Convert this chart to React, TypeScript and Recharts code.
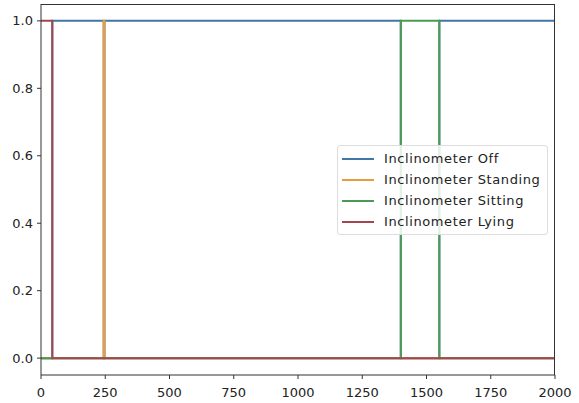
import React from "react";
import { LineChart, Line, XAxis, YAxis } from "recharts";

const xs = [0, 44, 244, 247, 1400, 1550, 2000];
const offValues = [0, 1, 0, 1, 0, 1, 1];
const standingValues = [0, 0, 1, 0, 0, 0, 0];
const sittingValues = [0, 0, 0, 0, 1, 0, 0];
const lyingValues = [1, 0, 0, 0, 0, 0, 0];
const xTicks = [0, 250, 500, 750, 1000, 1250, 1500, 1750, 2000];
const yTicks = [0, 0.2, 0.4, 0.6, 0.8, 1.0];

const data = xs.map((x, i) => ({
  x,
  off: offValues[i],
  standing: standingValues[i],
  sitting: sittingValues[i],
  lying: lyingValues[i],
}));

const series = [
  { key: "off", name: "Inclinometer Off", color: "#3f77a6" },
  { key: "standing", name: "Inclinometer Standing", color: "#e59c42" },
  { key: "sitting", name: "Inclinometer Sitting", color: "#4b9c52" },
  { key: "lying", name: "Inclinometer Lying", color: "#a4464f" },
];

const font = "'DejaVu Sans', sans-serif";
const tickStyle = { fill: "#222", fontSize: 13, fontFamily: font };

const XTick = (props: any) => {
  const { x, payload } = props;
  return (
    <text x={x} y={397} textAnchor="middle" fill="#222" fontSize={13} fontFamily={font}>
      {payload.value}
    </text>
  );
};

// plot box: left 41, right 555, top 4, bottom 375
export default function App() {
  return (
    <div style={{ position: "fixed", left: 0, top: 0, width: 579, height: 403, background: "#fff" }}>
      <LineChart width={579} height={403} data={data} margin={{ top: 4, right: 24, left: 0, bottom: 0 }}>
        <XAxis
          dataKey="x"
          type="number"
          domain={[0, 2000]}
          ticks={xTicks}
          height={28}
          tickSize={4}
          stroke="#333"
          tick={<XTick />}
        />
        <YAxis
          type="number"
          domain={[-0.05, 1.05]}
          ticks={yTicks}
          width={41}
          tickSize={4}
          tickMargin={4}
          stroke="#333"
          tickFormatter={(v: number) => v.toFixed(1)}
          tick={tickStyle}
        />
        {series.map((s) => (
          <Line
            key={s.key}
            type="stepAfter"
            dataKey={s.key}
            name={s.name}
            stroke={s.color}
            strokeWidth={2}
            dot={false}
            isAnimationActive={false}
          />
        ))}
      </LineChart>
      <div
        style={{
          position: "absolute",
          left: 41,
          top: 4,
          width: 514,
          height: 371,
          borderTop: "1px solid #333",
          borderRight: "1px solid #333",
          boxSizing: "border-box",
          pointerEvents: "none",
        }}
      />
      <div
        style={{
          position: "absolute",
          left: 337,
          top: 145,
          width: 211,
          boxSizing: "border-box",
          border: "1px solid #ddd",
          borderRadius: 3,
          background: "rgba(255,255,255,0.85)",
          padding: "2px 4px 2px 4px",
          fontFamily: font,
          fontSize: 13,
          letterSpacing: 0.6,
          color: "#222",
        }}
      >
        {series.map((s) => (
          <div key={s.key} style={{ display: "flex", alignItems: "center", height: 21, whiteSpace: "nowrap" }}>
            <span style={{ width: 32, height: 2, background: s.color, marginRight: 10, flexShrink: 0 }} />
            {s.name}
          </div>
        ))}
      </div>
    </div>
  );
}
